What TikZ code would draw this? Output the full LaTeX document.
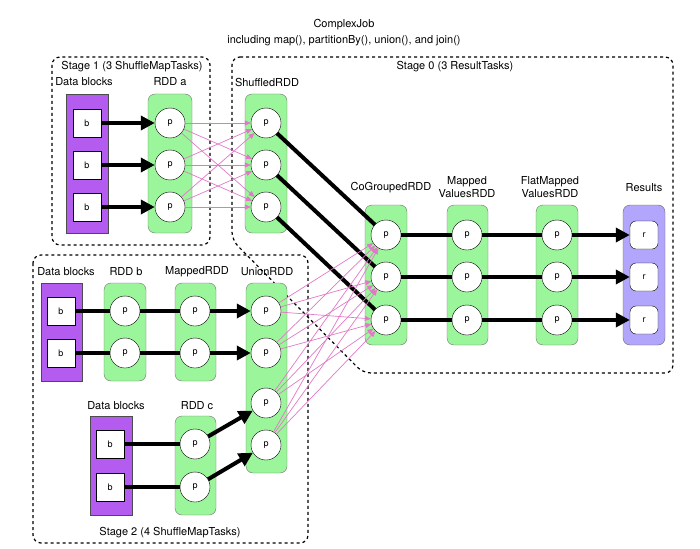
\documentclass[tikz,border=0pt]{standalone}
\usepackage{fontspec}
\setmainfont{TeX Gyre Heros}
\usetikzlibrary{arrows.meta}

\definecolor{rddgreen}{RGB}{155,246,155}
\definecolor{blockpurple}{RGB}{180,92,240}
\definecolor{resultblue}{RGB}{178,166,252}
\definecolor{shufflepink}{RGB}{226,120,200}

\tikzset{
  every node/.style={font=\fontsize{11}{13}\selectfont},
  stagebox/.style={draw, dashed, line width=1.2pt, rounded corners=8pt},
  rddbox/.style={draw=black!55, fill=rddgreen, rounded corners=7pt},
  blockbox/.style={draw=black!70, fill=blockpurple},
  resultbox/.style={draw=black!60, fill=resultblue, rounded corners=7pt},
  part/.style={circle, draw, fill=white, minimum size=30pt, inner sep=0pt, font=\fontsize{9}{10}\selectfont},
  blk/.style={draw, fill=white, minimum size=28pt, inner sep=0pt, font=\fontsize{9}{10}\selectfont},
  res/.style={draw, fill=white, rounded corners=6pt, minimum size=28pt, inner sep=0pt, font=\fontsize{9}{10}\selectfont},
  narrow/.style={line width=4pt},
  narrowhead/.style={line width=4pt, -{Triangle[length=14pt,width=14pt]}},
  shuffle/.style={draw=shufflepink, line width=0.7pt, -{Triangle[length=6pt,width=5pt]}}
}

\begin{document}
\begin{tikzpicture}[x=1pt, y=-1pt]
    \useasboundingbox (0,0) rectangle (700,548);

    % Title
    \node (title) at (344,25) {ComplexJob};
    \node (subtitle) at (344,41) {including map(), partitionBy(), union(), and join()};

    % Stages
    \draw[stagebox] (52,57) rectangle (210,245);
    \draw[stagebox] (232,57) -- (673,57) -- (673,373) -- (363,373) -- (232,240) -- cycle;
    \draw[stagebox] (33,255) rectangle (308,543);
    \node (stage1) at (132,67) {Stage 1 (3 ShuffleMapTasks)};
    \node (stage0) at (455,67) {Stage 0 (3 ResultTasks)};
    \node (stage2) at (170,533) {Stage 2 (4 ShuffleMapTasks)};

    % Containers
    \draw[blockbox] (66,94) rectangle (108,233);
    \draw[rddbox] (148,94) rectangle (192,233);
    \draw[rddbox] (245,94) rectangle (287,233);
    \draw[rddbox] (365,205) rectangle (407,345);
    \draw[rddbox] (447,205) rectangle (488,345);
    \draw[rddbox] (536,205) rectangle (578,345);
    \draw[resultbox] (623,205) rectangle (665,345);
    \draw[blockbox] (41,283) rectangle (82,381);
    \draw[rddbox] (104,283) rectangle (146,381);
    \draw[rddbox] (175,283) rectangle (216,381);
    \draw[rddbox] (246,283) rectangle (287,473);
    \draw[blockbox] (90,416) rectangle (132,515);
    \draw[rddbox] (175,416) rectangle (216,515);

    % Column labels
    \node (lblocksa) at (84,82) {Data blocks};
    \node (lrdda) at (170,82) {RDD a};
    \node (lshuffled) at (267,82) {ShuffledRDD};
    \node (lcogrouped) at (391,188) {CoGroupedRDD};
    \node[align=center] (lmapped) at (467,187) {Mapped\\ValuesRDD};
    \node[align=center] (lflat) at (550,187) {FlatMapped\\ValuesRDD};
    \node (lresults) at (644,188) {Results};
    \node (lblocksb) at (66,272) {Data blocks};
    \node (lrddb) at (126,272) {RDD b};
    \node (lmappedb) at (197,272) {MappedRDD};
    \node (lunion) at (267,272) {UnionRDD};
    \node (lblocksc) at (116,406) {Data blocks};
    \node (lrddc) at (197,406) {RDD c};

    % Partitions
    \foreach \i/\y in {1/123, 2/165, 3/207}
    {
      \node[blk] (ba\i) at (87,\y) {b};
      \node[part] (a\i) at (170,\y) {p};
      \node[part] (s\i) at (266,\y) {p};
    };
    \foreach \i/\y in {1/235, 2/277, 3/320}
    {
      \node[part] (c\i) at (386,\y) {p};
      \node[part] (m\i) at (467,\y) {p};
      \node[part] (f\i) at (557,\y) {p};
      \node[res] (r\i) at (644,\y) {r};
    };
    \foreach \i/\y in {1/311, 2/353}
    {
      \node[blk] (bb\i) at (61,\y) {b};
      \node[part] (pb\i) at (125,\y) {p};
      \node[part] (mb\i) at (195,\y) {p};
    };
    \foreach \i/\y in {1/444, 2/487}
    {
      \node[blk] (bc\i) at (110,\y) {b};
      \node[part] (pc\i) at (195,\y) {p};
    };
    \foreach \i/\y in {1/311, 2/353, 3/403, 4/445}
    {
      \node[part] (u\i) at (266,\y) {p};
    };

    % Narrow dependencies
    \foreach \i in {1,2,3}
    {
      \draw[narrowhead] (ba\i) -- (a\i);
      \draw[narrow] (s\i) -- (c\i);
      \draw[narrow] (c\i) -- (m\i);
      \draw[narrow] (m\i) -- (f\i);
      \draw[narrowhead] (f\i) -- (r\i);
    };
    \foreach \i in {1,2}
    {
      \draw[narrow] (bb\i) -- (pb\i);
      \draw[narrow] (pb\i) -- (mb\i);
      \draw[narrowhead] (mb\i) -- (u\i);
      \draw[narrow] (bc\i) -- (pc\i);
    };
    \draw[narrowhead] (pc1) -- (u3);
    \draw[narrowhead] (pc2) -- (u4);

    % Shuffle dependencies
    \foreach \i in {1,2,3}
    {
      \foreach \j in {1,2,3}
      {
      \draw[shuffle] (a\i) -- (s\j);
      };
    };
    \foreach \i in {1,2,3,4}
    {
      \foreach \j in {1,2,3}
      {
      \draw[shuffle] (u\i) -- (c\j);
      };
    };

\end{tikzpicture}
\end{document}
